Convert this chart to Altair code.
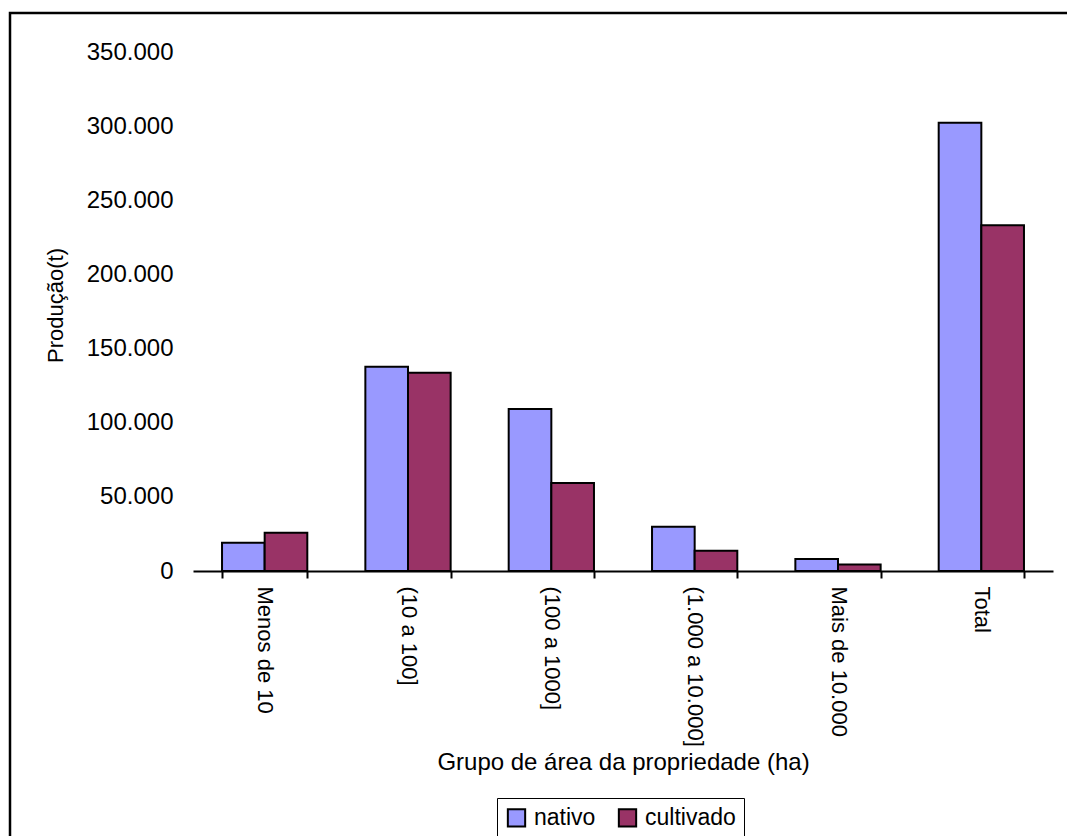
import altair as alt
import pandas as pd

categorias = ["Menos de 10", "(10 a 100]", "(100 a 1000]", "(1.000 a 10.000]", "Mais de 10.000", "Total"]
nativo = [19100, 137800, 109300, 29900, 8100, 302300]
cultivado = [25800, 133700, 59300, 13700, 4300, 233100]
series = ["nativo", "cultivado"]
cores = ["#9999FF", "#993366"]

rows = []
for c, n, cu in zip(categorias, nativo, cultivado):
    rows.append({"grupo": c, "tipo": "nativo", "valor": n})
    rows.append({"grupo": c, "tipo": "cultivado", "valor": cu})
df = pd.DataFrame(rows)

FONT = "Liberation Sans"

bars = alt.Chart(df).mark_bar(stroke="black", strokeWidth=2).encode(
    x=alt.X("grupo:N", sort=categorias,
            scale=alt.Scale(paddingInner=0.405, paddingOuter=0.2025),
            axis=alt.Axis(title="Grupo de área da propriedade (ha)", labelAngle=90,
                          labelPadding=8, tickSize=7, tickWidth=2, tickColor="black",
                          domainColor="black", domainWidth=2, tickBand="extent",
                          labelFontSize=22, titleFontSize=24,
                          titleY=191, titleBaseline="middle")),
    xOffset=alt.XOffset("tipo:N", sort=series, scale=alt.Scale(paddingInner=0, paddingOuter=0)),
    y=alt.Y("valor:Q", scale=alt.Scale(domain=[0, 350000], nice=False),
            axis=alt.Axis(title="Produção(t)", values=list(range(0, 350001, 50000)),
                          labelExpr="replace(format(datum.value, ','), ',', '.')",
                          domain=False, ticks=False, grid=False, labelPadding=20,
                          labelFontSize=24, titleFontSize=22,
                          titleX=-138, titleY=253, titleAlign="center",
                          titleBaseline="middle", titleAngle=-90)),
    color=alt.Color("tipo:N", sort=series,
                    scale=alt.Scale(domain=series, range=cores),
                    legend=alt.Legend(title=None, orient="none", legendX=304, legendY=746,
                                      direction="horizontal", strokeColor="black",
                                      padding=8, symbolType="square", symbolSize=300,
                                      symbolStrokeColor="black", symbolStrokeWidth=2,
                                      labelFontSize=23, labelFont=FONT, labelOffset=6,
                                      columnPadding=18)),
)

frame = alt.Chart(pd.DataFrame({"a": [0]})).mark_rect(
    fill=None, stroke="black", strokeWidth=2.5, clip=False
).encode(
    x=alt.value(-183), x2=alt.value(950), y=alt.value(-39), y2=alt.value(900)
)

chart = alt.layer(bars, frame).properties(
    width=860, height=519,
    autosize=alt.AutoSizeParams(type="none"),
    padding={"left": 193, "top": 52, "right": 14, "bottom": 265},
    background="white",
).configure_view(stroke=None).configure_axis(
    labelFont=FONT, titleFont=FONT,
    labelColor="black", titleColor="black", titleFontWeight="normal", grid=False
)

chart.save("out.html", embed_options={"renderer": "svg", "actions": False})
